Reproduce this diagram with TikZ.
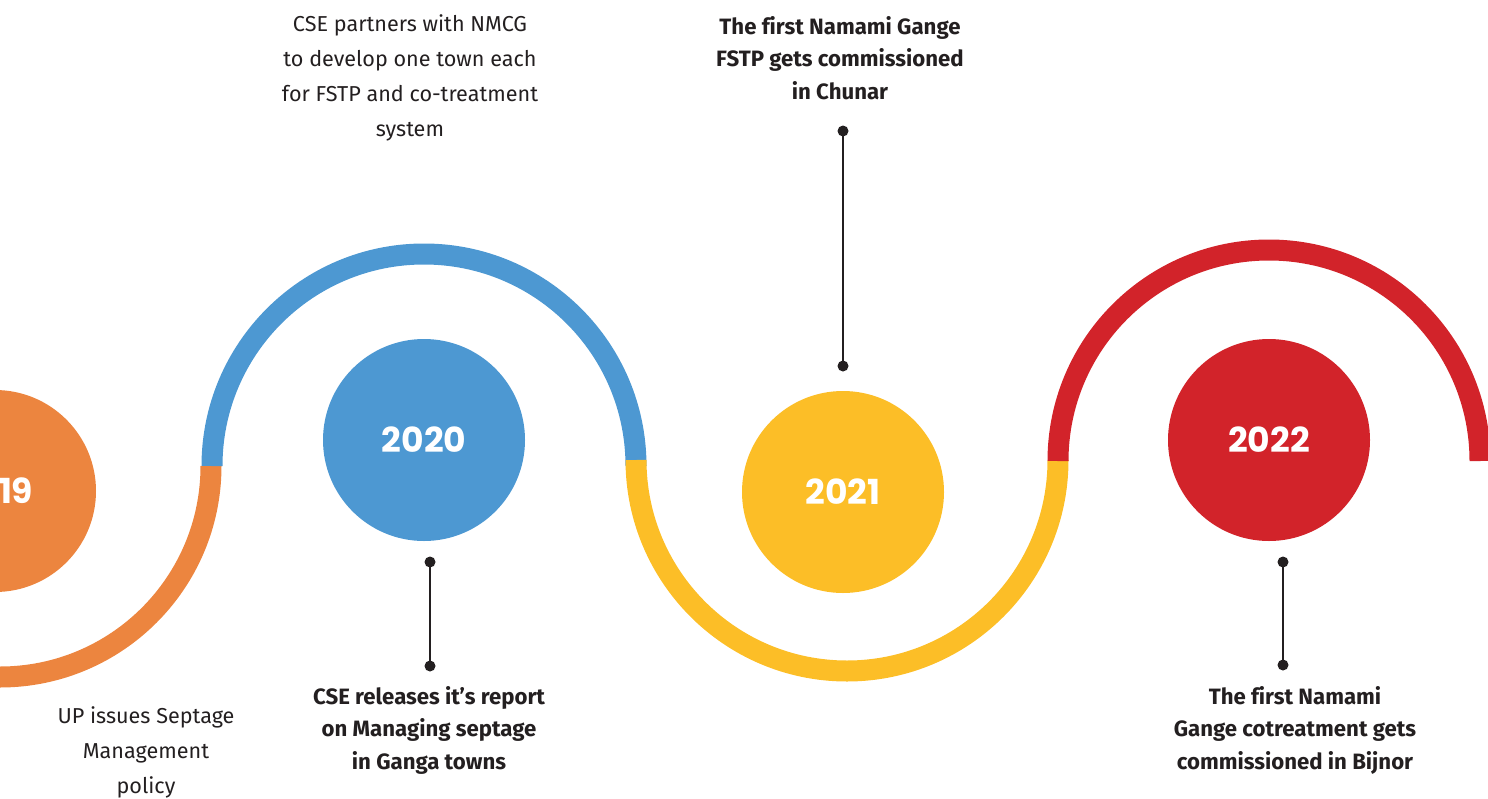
\documentclass[tikz,border=0pt]{standalone}
\usepackage{fontspec}
\setmainfont{Fira Sans}[Ligatures=NoCommon]
\newfontfamily\yearfont{Poppins}
\usetikzlibrary{positioning}
\definecolor{tlorange}{HTML}{EC853F}
\definecolor{tlblue}{HTML}{4D98D2}
\definecolor{tlyellow}{HTML}{FCBE27}
\definecolor{tlred}{HTML}{D2232A}
\definecolor{tltext}{HTML}{231F20}

\begin{document}
\begin{tikzpicture}[x=1pt,y=-1pt,
    band/.style={line width=21pt},
    yeardisc/.style={circle,minimum size=202pt,inner sep=0pt,text=white,
      font=\yearfont\bfseries\fontsize{34.5}{34.5}\selectfont},
    stem/.style={line width=2.6pt,draw=tltext},
    note/.style={align=center,text=tltext,font=\fontsize{21.6}{35}\selectfont},
    boldnote/.style={align=center,text=tltext,font=\bfseries\fontsize{22.2}{32.5}\selectfont}]
    \useasboundingbox (0,0) rectangle (1488,798);
    \clip (0,0) rectangle (1488,798);

    % the winding band
    \draw[band,tlorange] (211,466) arc (0:180:211);
    \draw[band,tlblue] (212,466) arc (180:360:212);
    \draw[band,tlyellow] (636,460) arc (180:0:211);
    \draw[band,tlred] (1058,461) arc (180:360:211);

    % years
    \node[yeardisc,fill=tlorange] (y2019) at (-5,491) {2019};
    \node[yeardisc,fill=tlblue] (y2020) at (424,440) {2020};
    \node[yeardisc,fill=tlyellow] (y2021) at (843,492) {2021};
    \node[yeardisc,fill=tlred] (y2022) at (1269,440) {2022};

    % stems with dots
    \coordinate (s2020a) at (430,562);
    \coordinate (s2020b) at (430,666);
    \coordinate (s2021a) at (843,131);
    \coordinate (s2021b) at (843,366);
    \coordinate (s2022a) at (1283,562);
    \coordinate (s2022b) at (1283,665);
    \foreach \yr in {2020,2021,2022} {
        \draw[stem] (s\yr a) -- (s\yr b);
        \fill[tltext] (s\yr a) circle (5.5) (s\yr b) circle (5.5);
    }

    % texts
    \node[note] (t2019) at (146,752) {UP issues Septage\\Management\\policy};
    \node[note] (t2020top) at (410,78) {CSE partners with NMCG\\to develop one town each\\for FSTP and co-treatment\\system};
    \node[boldnote] (t2020) at (429,730) {CSE releases it’s report\\on Managing septage\\in Ganga towns};
    \node[boldnote] (t2021) at (840,58) {The first Namami Gange\\FSTP gets commissioned\\in Chunar};
    \node[boldnote] (t2022) at (1295,730) {The first Namami\\Gange cotreatment gets\\commissioned in Bijnor};
\end{tikzpicture}
\end{document}
